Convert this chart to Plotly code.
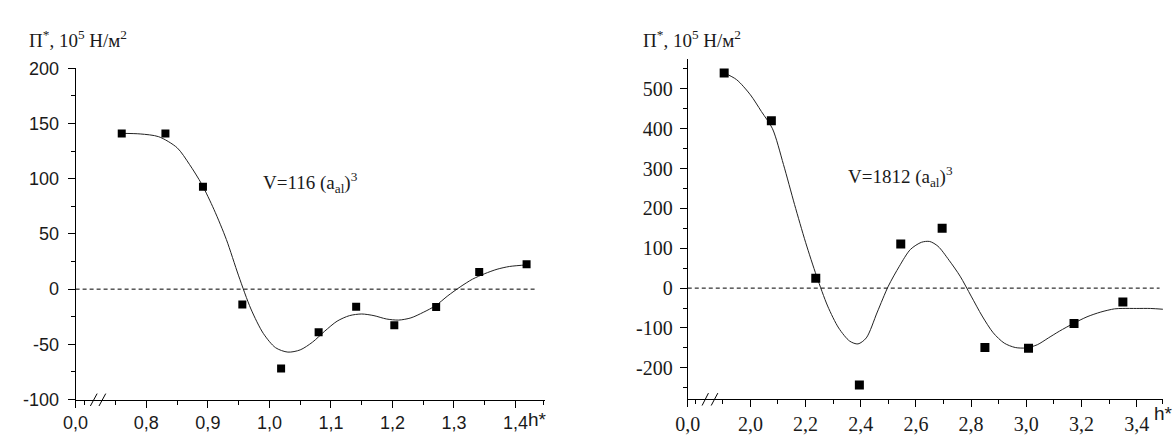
import plotly.graph_objects as go

W, H = 1175, 437

# ---------------- data: left panel (V = 116 (a_al)^3) ----------------
left_h = [0.760, 0.831, 0.892, 0.956, 1.019, 1.080, 1.141, 1.203, 1.271, 1.341, 1.418]
left_p = [141, 141, 92.6, -13.8, -71.8, -39, -16, -32.6, -16.2, 15.6, 22.5]

# smooth fitted curve
left_fit_h = [0.76, 0.79, 0.82, 0.85, 0.87, 0.89, 0.91, 0.93, 0.95, 0.97, 0.99, 1.01,
              1.03, 1.05, 1.07, 1.09, 1.11, 1.13, 1.15, 1.17, 1.19, 1.21, 1.23, 1.25,
              1.27, 1.29, 1.31, 1.33, 1.35, 1.37, 1.39, 1.42]
left_fit_p = [141, 140.5, 138, 128, 113, 95, 72, 45, 12, -18, -40, -53,
              -57, -55, -48, -38, -29, -24, -22.5, -24, -27, -28, -26, -21,
              -15, -6, 2, 9, 14, 18, 20.5, 22]

# ---------------- data: right panel (V = 1812 (a_al)^3) ----------------
right_h = [1.905, 2.076, 2.237, 2.395, 2.545, 2.695, 2.850, 3.008, 3.173, 3.350]
right_p = [540, 420, 25, -243, 111, 150, -149, -151, -89, -35]

right_fit_h = [1.905, 1.95, 2.00, 2.04, 2.08, 2.12, 2.16, 2.20, 2.24, 2.28, 2.32, 2.36,
               2.39, 2.42, 2.46, 2.50, 2.54, 2.58, 2.62, 2.65, 2.68, 2.72, 2.76, 2.80,
               2.84, 2.88, 2.92, 2.96, 3.00, 3.04, 3.08, 3.12, 3.17, 3.22, 3.27, 3.32,
               3.35, 3.40, 3.45, 3.495]
right_fit_p = [540, 523, 485, 443, 400, 310, 210, 115, 30, -45, -100, -133,
               -140, -125, -60, 5, 55, 97, 115, 117, 105, 70, 30, -20,
               -70, -112, -138, -149, -150, -142, -125, -108, -89, -72, -60, -52,
               -51, -51, -51, -53]

# ---------------- tick labels ----------------
left_xtick_vals = [0.685, 0.8, 0.9, 1.0, 1.1, 1.2, 1.3, 1.4]
left_xtick_text = ["0,0", "0,8", "0,9", "1,0", "1,1", "1,2", "1,3", "1,4"]
left_xminor = [0.70, 0.75, 0.85, 0.95, 1.05, 1.15, 1.25, 1.35, 1.445]
left_ytick_vals = [-100, -50, 0, 50, 100, 150, 200]
left_ytick_text = ["-100", "-50", "0", "50", "100", "150", "200"]
left_yminor = [-75, -25, 25, 75, 125, 175]

right_xtick_vals = [1.773, 2.0, 2.2, 2.4, 2.6, 2.8, 3.0, 3.2, 3.4]
right_xtick_text = ["0,0", "2,0", "2,2", "2,4", "2,6", "2,8", "3,0", "3,2", "3,4"]
right_xminor = [1.8, 1.9, 2.1, 2.3, 2.5, 2.7, 2.9, 3.1, 3.3, 3.495]
right_ytick_vals = [-200, -100, 0, 100, 200, 300, 400, 500]
right_ytick_text = ["-200", "-100", "0", "100", "200", "300", "400", "500"]
right_yminor = [-250, -150, -50, 50, 150, 250, 350, 450, 550]

SANS = "Liberation Sans, Arial, sans-serif"
SERIF = "Liberation Serif, Times New Roman, serif"
INK = "#1a1a1a"


def px_x(p):
    return p / W


def px_y(p):
    return (H - p) / H


fig = go.Figure()

fig.add_trace(go.Scatter(x=left_fit_h, y=left_fit_p, mode="lines",
                         line=dict(color="#222", width=1, shape="spline", smoothing=0.8),
                         xaxis="x", yaxis="y", hoverinfo="skip"))
fig.add_trace(go.Scatter(x=left_h, y=left_p, mode="markers",
                         marker=dict(symbol="square", size=8, color="black"),
                         xaxis="x", yaxis="y"))
fig.add_trace(go.Scatter(x=right_fit_h, y=right_fit_p, mode="lines",
                         line=dict(color="#222", width=1, shape="spline", smoothing=0.8),
                         xaxis="x2", yaxis="y2", hoverinfo="skip"))
fig.add_trace(go.Scatter(x=right_h, y=right_p, mode="markers",
                         marker=dict(symbol="square", size=9, color="black"),
                         xaxis="x2", yaxis="y2"))


def axis_common(font_family, size):
    return dict(showgrid=False, zeroline=False, showline=True, linecolor="black",
                linewidth=1, ticks="outside", ticklen=7, tickwidth=1, tickcolor="black",
                tickfont=dict(family=font_family, size=size, color=INK), tickangle=0,
                tickmode="array", fixedrange=True, ticklabeloverflow="allow")


# left axes
xa = axis_common(SANS, 18)
xa.update(domain=[px_x(63.3), px_x(538)], range=[0.685, 1.448], anchor="y",
          tickvals=left_xtick_vals, ticktext=left_xtick_text,
          minor=dict(tickvals=left_xminor, ticks="outside", ticklen=4, tickcolor="black"))
ya = axis_common(SANS, 18)
ya.update(domain=[px_y(408.3), px_y(61)], range=[-100, 200], anchor="x",
          tickvals=left_ytick_vals, ticktext=left_ytick_text, ticklabelstandoff=5,
          minor=dict(tickvals=left_yminor, ticks="outside", ticklen=4, tickcolor="black"))

# right axes
xa2 = axis_common(SERIF, 20)
xa2.update(domain=[px_x(682.3), px_x(1163.3)], range=[1.773, 3.497], anchor="y2",
           tickvals=right_xtick_vals, ticktext=right_xtick_text,
           minor=dict(tickvals=right_xminor, ticks="outside", ticklen=4, tickcolor="black"))
ya2 = axis_common(SERIF, 20)
ya2.update(domain=[px_y(408), px_y(51.7)], range=[-279, 574], anchor="x2",
           tickvals=right_ytick_vals, ticktext=right_ytick_text, ticklabelstandoff=3,
           minor=dict(tickvals=right_yminor, ticks="outside", ticklen=4, tickcolor="black"))

shapes = []
# dashed zero lines
shapes.append(dict(type="line", xref="x", yref="y", x0=0.685, x1=1.433, y0=0, y1=0,
                   line=dict(color="black", width=1, dash="4px,3px")))
shapes.append(dict(type="line", xref="x2", yref="y2", x0=1.773, x1=3.483, y0=0, y1=0,
                   line=dict(color="black", width=1, dash="4px,3px")))
# axis-break slashes
for (x0, x1) in [(0.709, 0.720), (0.723, 0.734)]:
    shapes.append(dict(type="line", xref="x", yref="paper", x0=x0, x1=x1,
                       y0=px_y(415), y1=px_y(402), line=dict(color="black", width=1)))
for (x0, x1) in [(1.825, 1.848), (1.858, 1.882)]:
    shapes.append(dict(type="line", xref="x2", yref="paper", x0=x0, x1=x1,
                       y0=px_y(414.5), y1=px_y(401.5), line=dict(color="black", width=1)))

ytitle = "П<sup>*</sup>, 10<sup>5</sup> Н/м<sup>2</sup>"
annotations = [
    dict(text=ytitle, x=px_x(14), y=px_y(30), xref="paper", yref="paper",
         xanchor="left", yanchor="middle", showarrow=False,
         font=dict(family=SERIF, size=19, color=INK)),
    dict(text=ytitle, x=px_x(635), y=px_y(30), xref="paper", yref="paper",
         xanchor="left", yanchor="middle", showarrow=False,
         font=dict(family=SERIF, size=19, color=INK)),
    dict(text="V=116 (a<sub>al</sub>)<sup>3</sup>", x=px_x(301), y=px_y(181),
         xref="paper", yref="paper", xanchor="center", yanchor="middle", showarrow=False,
         font=dict(family=SERIF, size=19, color=INK)),
    dict(text="V=1812 (a<sub>al</sub>)<sup>3</sup>", x=px_x(897), y=px_y(175),
         xref="paper", yref="paper", xanchor="center", yanchor="middle", showarrow=False,
         font=dict(family=SERIF, size=19, color=INK)),
    dict(text="h*", x=px_x(519), y=px_y(429), xref="paper", yref="paper",
         xanchor="left", yanchor="middle", showarrow=False,
         font=dict(family=SANS, size=19, color=INK)),
    dict(text="h*", x=px_x(1152), y=px_y(423), xref="paper", yref="paper",
         xanchor="left", yanchor="middle", showarrow=False,
         font=dict(family=SANS, size=19, color=INK)),
]

fig.update_layout(
    width=W, height=H,
    margin=dict(l=0, r=0, t=0, b=0),
    paper_bgcolor="white", plot_bgcolor="white",
    showlegend=False,
    xaxis=xa, yaxis=ya, xaxis2=xa2, yaxis2=ya2,
    shapes=shapes, annotations=annotations,
)

fig.write_html(
    "out.html",
    config={"displayModeBar": False, "staticPlot": True},
    post_script="document.body.style.margin='0px';document.body.style.overflow='hidden';",
)
